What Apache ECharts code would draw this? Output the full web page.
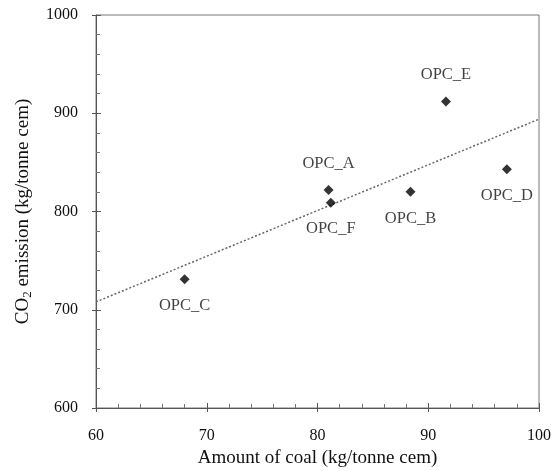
<!DOCTYPE html>
<html>
<head>
<meta charset="utf-8">
<script src="https://cdn.jsdelivr.net/npm/echarts@6/dist/echarts.min.js"></script>
<style>
  html, body { margin: 0; padding: 0; background: #fff; }
  #main { width: 555px; height: 471px; }
</style>
</head>
<body>
<div id="main"></div>
<script>
// samples
const names = ['OPC_A', 'OPC_B', 'OPC_C', 'OPC_D', 'OPC_E', 'OPC_F'];
const coal = [81.0, 88.4, 68.0, 97.1, 91.6, 81.2];
const co2 = [822, 820, 731, 843, 912, 809];
const labelPos = ['top', 'bottom', 'bottom', 'bottom', 'top', 'bottom'];
// dotted trend line end points
const trendX = [60, 100];
const trendY = [708, 894];

const chart = echarts.init(document.getElementById('main'));
const serif = 'Liberation Serif';

let points = [];
for (let i = 0; i < names.length; i++) {
  points.push({
    value: [coal[i], co2[i]],
    name: names[i],
    label: { position: labelPos[i] }
  });
}

// keep the plot box fixed, labels may run to the page edge
const grid = {
  left: 96, right: 16, top: 15, bottom: 63,
  outerBoundsMode: 'none', containLabel: false,
  show: true, borderColor: '#777', borderWidth: 1
};

// two axis sets so the major ticks cross the axis line and minor ticks sit inside
const xBase = { type: 'value', min: 60, max: 100, interval: 10 };
const yBase = { type: 'value', min: 600, max: 1000, interval: 100 };

const option = {
  backgroundColor: '#fff',
  animation: false,
  grid: grid,
  xAxis: [
    Object.assign({}, xBase, {
      name: 'Amount of coal (kg/tonne cem)',
      nameLocation: 'middle',
      nameGap: 40,
      nameTextStyle: { fontFamily: serif, fontSize: 19, color: '#111' },
      axisLine: { lineStyle: { color: '#555' } },
      axisTick: { inside: false, length: 4, lineStyle: { color: '#555' } },
      axisLabel: { fontFamily: serif, fontSize: 16, color: '#111', margin: 20 },
      splitLine: { show: false }
    }),
    Object.assign({}, xBase, {
      position: 'bottom',
      axisLine: { show: false },
      axisTick: { inside: true, length: 5, lineStyle: { color: '#555' } },
      minorTick: { show: true, splitNumber: 5, length: 4, lineStyle: { color: '#777' } },
      axisLabel: { show: false },
      splitLine: { show: false }
    })
  ],
  yAxis: [
    Object.assign({}, yBase, {
      name: '{n|CO}{s|2}{n| emission (kg/tonne cem)}',
      nameLocation: 'middle',
      nameGap: 62,
      nameRotate: 90,
      nameTextStyle: {
        rich: {
          n: { fontFamily: serif, fontSize: 19, color: '#111' },
          s: { fontFamily: serif, fontSize: 13, color: '#111', verticalAlign: 'bottom', padding: [9, 0, 0, 0] }
        }
      },
      axisLine: { lineStyle: { color: '#555' } },
      axisTick: { inside: false, length: 4, lineStyle: { color: '#555' } },
      axisLabel: { fontFamily: serif, fontSize: 16, color: '#111', margin: 18, formatter: v => String(v) },
      splitLine: { show: false }
    }),
    Object.assign({}, yBase, {
      position: 'left',
      axisLine: { show: false },
      axisTick: { inside: true, length: 5, lineStyle: { color: '#555' } },
      minorTick: { show: true, splitNumber: 5, length: 4, lineStyle: { color: '#777' } },
      axisLabel: { show: false },
      splitLine: { show: false }
    })
  ],
  series: [
    {
      type: 'line',
      data: [[trendX[0], trendY[0]], [trendX[1], trendY[1]]],
      symbol: 'none',
      silent: true,
      lineStyle: { color: '#666', width: 1.5, type: [2, 2] },
      z: 1
    },
    {
      type: 'scatter',
      data: points,
      symbol: 'diamond',
      symbolSize: 10,
      itemStyle: { color: '#000' },
      label: {
        show: true,
        formatter: '{b}',
        distance: 13,
        fontFamily: serif,
        fontSize: 16.5,
        color: '#111'
      },
      z: 3
    }
  ]
};

chart.setOption(option);
</script>
</body>
</html>
